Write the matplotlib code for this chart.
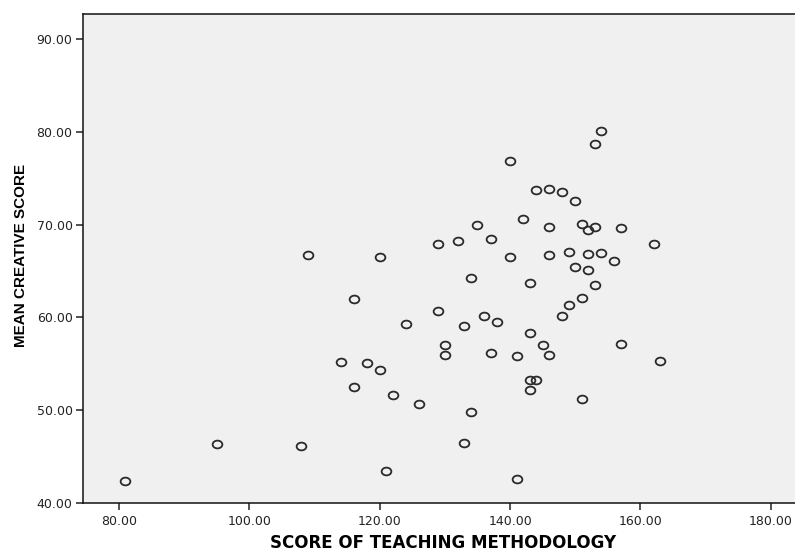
"""Scatter of mean creative score against teaching methodology score."""

import matplotlib

matplotlib.use("Agg")
import matplotlib.pyplot as plt
from matplotlib.path import Path
from matplotlib.transforms import Affine2D

# teaching methodology score (x) and mean creative score (y) per respondent
teaching_score = [
    81, 95, 108, 109, 114, 116, 116, 118, 120, 120, 121, 122, 124, 126,
    129, 129, 130, 130, 132, 133, 133, 134, 134, 135, 136, 137, 137, 138,
    140, 140, 141, 141, 142, 143, 143, 143, 143, 144, 144, 145, 146, 146,
    146, 146, 148, 148, 149, 149, 150, 150, 151, 151, 151, 152, 152, 152,
    153, 153, 153, 154, 154, 156, 157, 157, 162, 163,
]
creative_score = [
    42.4, 46.4, 46.1, 66.7, 55.2, 62.0, 52.5, 55.1, 66.5, 54.3, 43.5, 51.6, 59.3, 50.7,
    67.9, 60.7, 57.0, 55.9, 68.2, 59.1, 46.5, 64.2, 49.8, 70.0, 60.2, 68.4, 56.2, 59.5,
    76.9, 66.5, 55.8, 42.6, 70.6, 63.7, 58.3, 53.2, 52.2, 73.7, 53.3, 57.0, 73.8, 69.7,
    66.7, 55.9, 73.5, 60.2, 67.1, 61.3, 72.5, 65.4, 70.1, 62.1, 51.2, 69.4, 66.8, 65.1,
    78.7, 69.7, 63.5, 80.1, 66.9, 66.1, 69.6, 57.1, 67.9, 55.3,
]

x_ticks = [80, 100, 120, 140, 160, 180]
y_ticks = [40, 50, 60, 70, 80, 90]

# slightly wide open circle, like the SPSS default marker
oval = Path.unit_circle().transformed(Affine2D().scale(1.25, 1.0))

fig = plt.figure(figsize=(7.95, 5.52), dpi=100)
ax = fig.add_axes([0.1044, 0.0888, 0.8956, 0.8859])
ax.set_facecolor("#f0f0f0")

ax.plot(
    teaching_score, creative_score, linestyle="none", marker=oval,
    markersize=7.0, markerfacecolor="none", markeredgecolor="#2a2a2a",
    markeredgewidth=1.3,
)

ax.set_xlim(74.5, 183.7)
ax.set_ylim(40, 92.7)
ax.set_xticks(x_ticks, labels=[f"{v:.2f}" for v in x_ticks])
ax.set_yticks(y_ticks, labels=[f"{v:.2f}" for v in y_ticks])
ax.tick_params(direction="out", length=5, width=1.1, labelsize=9, colors="#222222")
ax.tick_params(axis="x", pad=4)
ax.tick_params(axis="y", pad=2.5)

for side in ("left", "bottom", "top"):
    ax.spines[side].set_linewidth(1.1)
    ax.spines[side].set_color("#111111")
ax.spines["right"].set_visible(False)

ax.set_xlabel("SCORE OF TEACHING METHODOLOGY", fontsize=12, fontweight="bold")
ax.xaxis.set_label_coords(0.506, -0.082)
ax.xaxis.label.set_va("center")
ax.set_ylabel("MEAN CREATIVE SCORE", fontsize=11, fontweight="bold",
              family="Liberation Sans")
ax.yaxis.set_label_coords(-0.087, 0.507)
ax.yaxis.label.set_va("center")

fig.savefig("out.png", dpi=100)
plt.close(fig)
